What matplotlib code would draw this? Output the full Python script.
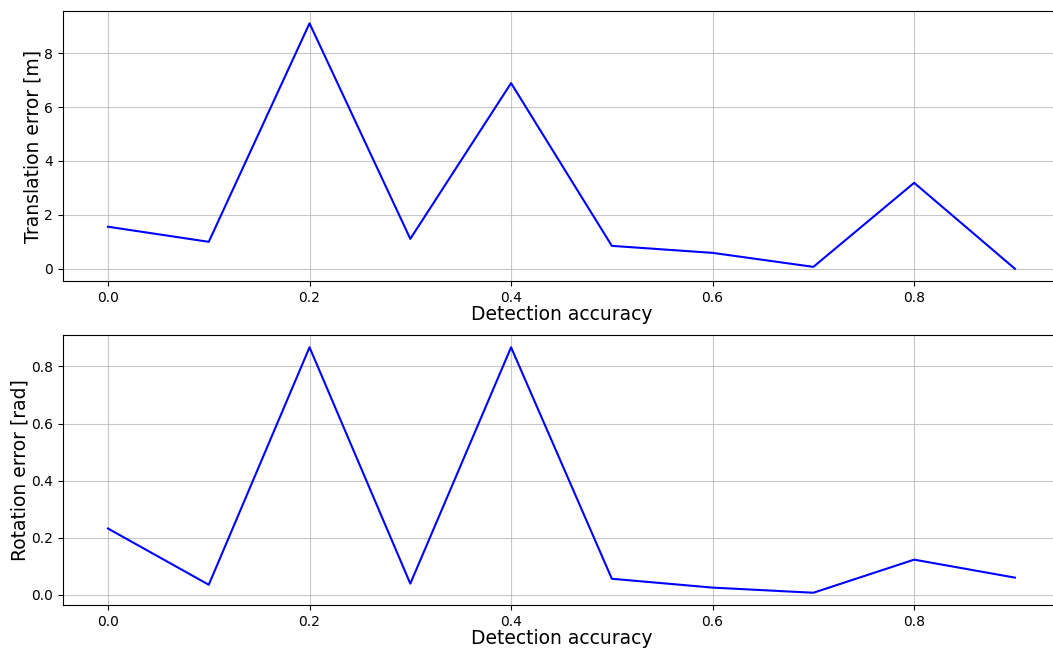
import numpy as np
import matplotlib.pyplot as plt

accuracy = [0.0, 0.1, 0.2, 0.3, 0.4, 0.5, 0.6, 0.7, 0.8, 0.9]
trans_err = [1.56, 1.0, 9.11, 1.11, 6.89, 0.85, 0.59, 0.07, 3.19, 0.0]
rot_err = [0.232, 0.035, 0.867, 0.039, 0.867, 0.056, 0.025, 0.007, 0.123, 0.06]

fig, (ax1, ax2) = plt.subplots(2, 1, figsize=(10.53, 6.5), dpi=100)

ax1.plot(accuracy, trans_err, color='blue')
ax1.set_xlabel('Detection accuracy', fontsize=13.5, labelpad=0)
ax1.set_ylabel('Translation error [m]', fontsize=13.5, labelpad=1)
ax1.grid(True, alpha=0.7)

ax2.plot(accuracy, rot_err, color='blue')
ax2.set_xlabel('Detection accuracy', fontsize=13.5, labelpad=0)
ax2.set_ylabel('Rotation error [rad]', fontsize=13.5, labelpad=1)
ax2.grid(True, alpha=0.7)

# image is cropped on the right, so the axes run slightly past the edge
fig.subplots_adjust(left=0.0595, right=1.0069, top=0.983, bottom=0.0692, hspace=0.2)
fig.savefig('out.png')
